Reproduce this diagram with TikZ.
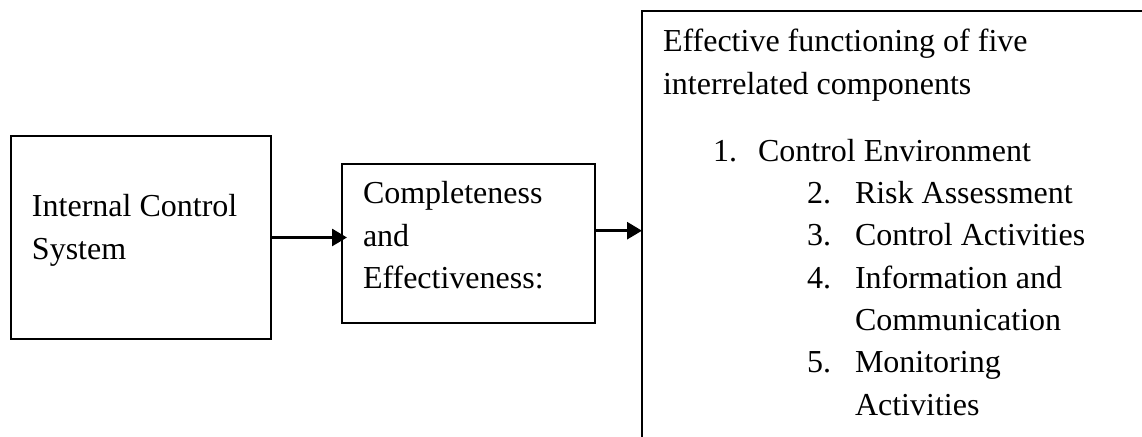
\documentclass[tikz,border=0pt]{standalone}
\usepackage{fontspec}
\setmainfont{Liberation Serif}
\usetikzlibrary{arrows.meta}
\tikzset{
  box/.style={draw, line width=1.2pt, rectangle, inner sep=0pt, outer sep=0pt},
  txt/.style={anchor=base west, inner sep=0pt, outer sep=0pt, font=\fontsize{16}{21.2}\selectfont},
  arr/.style={line width=1.4pt, -{Triangle[length=7.5pt,width=8.5pt]}}
}
\newcommand{\lines}[1]{\begin{tabular}[t]{@{}l@{}}#1\end{tabular}}
\begin{document}
\begin{tikzpicture}[x=0.5pt,y=-0.5pt]
\useasboundingbox (0,0) rectangle (1142,437);
\clip (0,0) rectangle (1142,437);
% boxes
\node[box, minimum width=130pt, minimum height=101.5pt] (ics) at (141,237.5) {};
\node[box, minimum width=126.5pt, minimum height=79.5pt] (ce) at (468.5,243.5) {};
\node[box, minimum width=259pt, minimum height=224.5pt] (comp) at (901,235.5) {};
% texts
\node[txt] (t1) at (32,217) {\lines{Internal Control\\System}};
\node[txt] (t2) at (363,204) {\lines{Completeness\\and\\Effectiveness:}};
\node[txt] (t3) at (663,52) {\lines{Effective functioning of five\\interrelated components}};
\node[txt] (n1) at (713,162) {1.};
\node[txt] (i1) at (758,162) {Control Environment};
\node[txt] (n2) at (807,203.4) {\lines{2.\\3.\\4.\\\\5.}};
\node[txt] (i2) at (855,203.4) {\lines{Risk Assessment\\Control Activities\\Information and\\Communication\\Monitoring\\Activities}};
% connectors
\coordinate (a2) at (0,230.7);
\draw[arr, shorten >=-2.5pt] (ics.east) -- (ics.east -| ce.west);
\draw[arr] (ce.east |- a2) -- (comp.west |- a2);
\end{tikzpicture}
\end{document}
